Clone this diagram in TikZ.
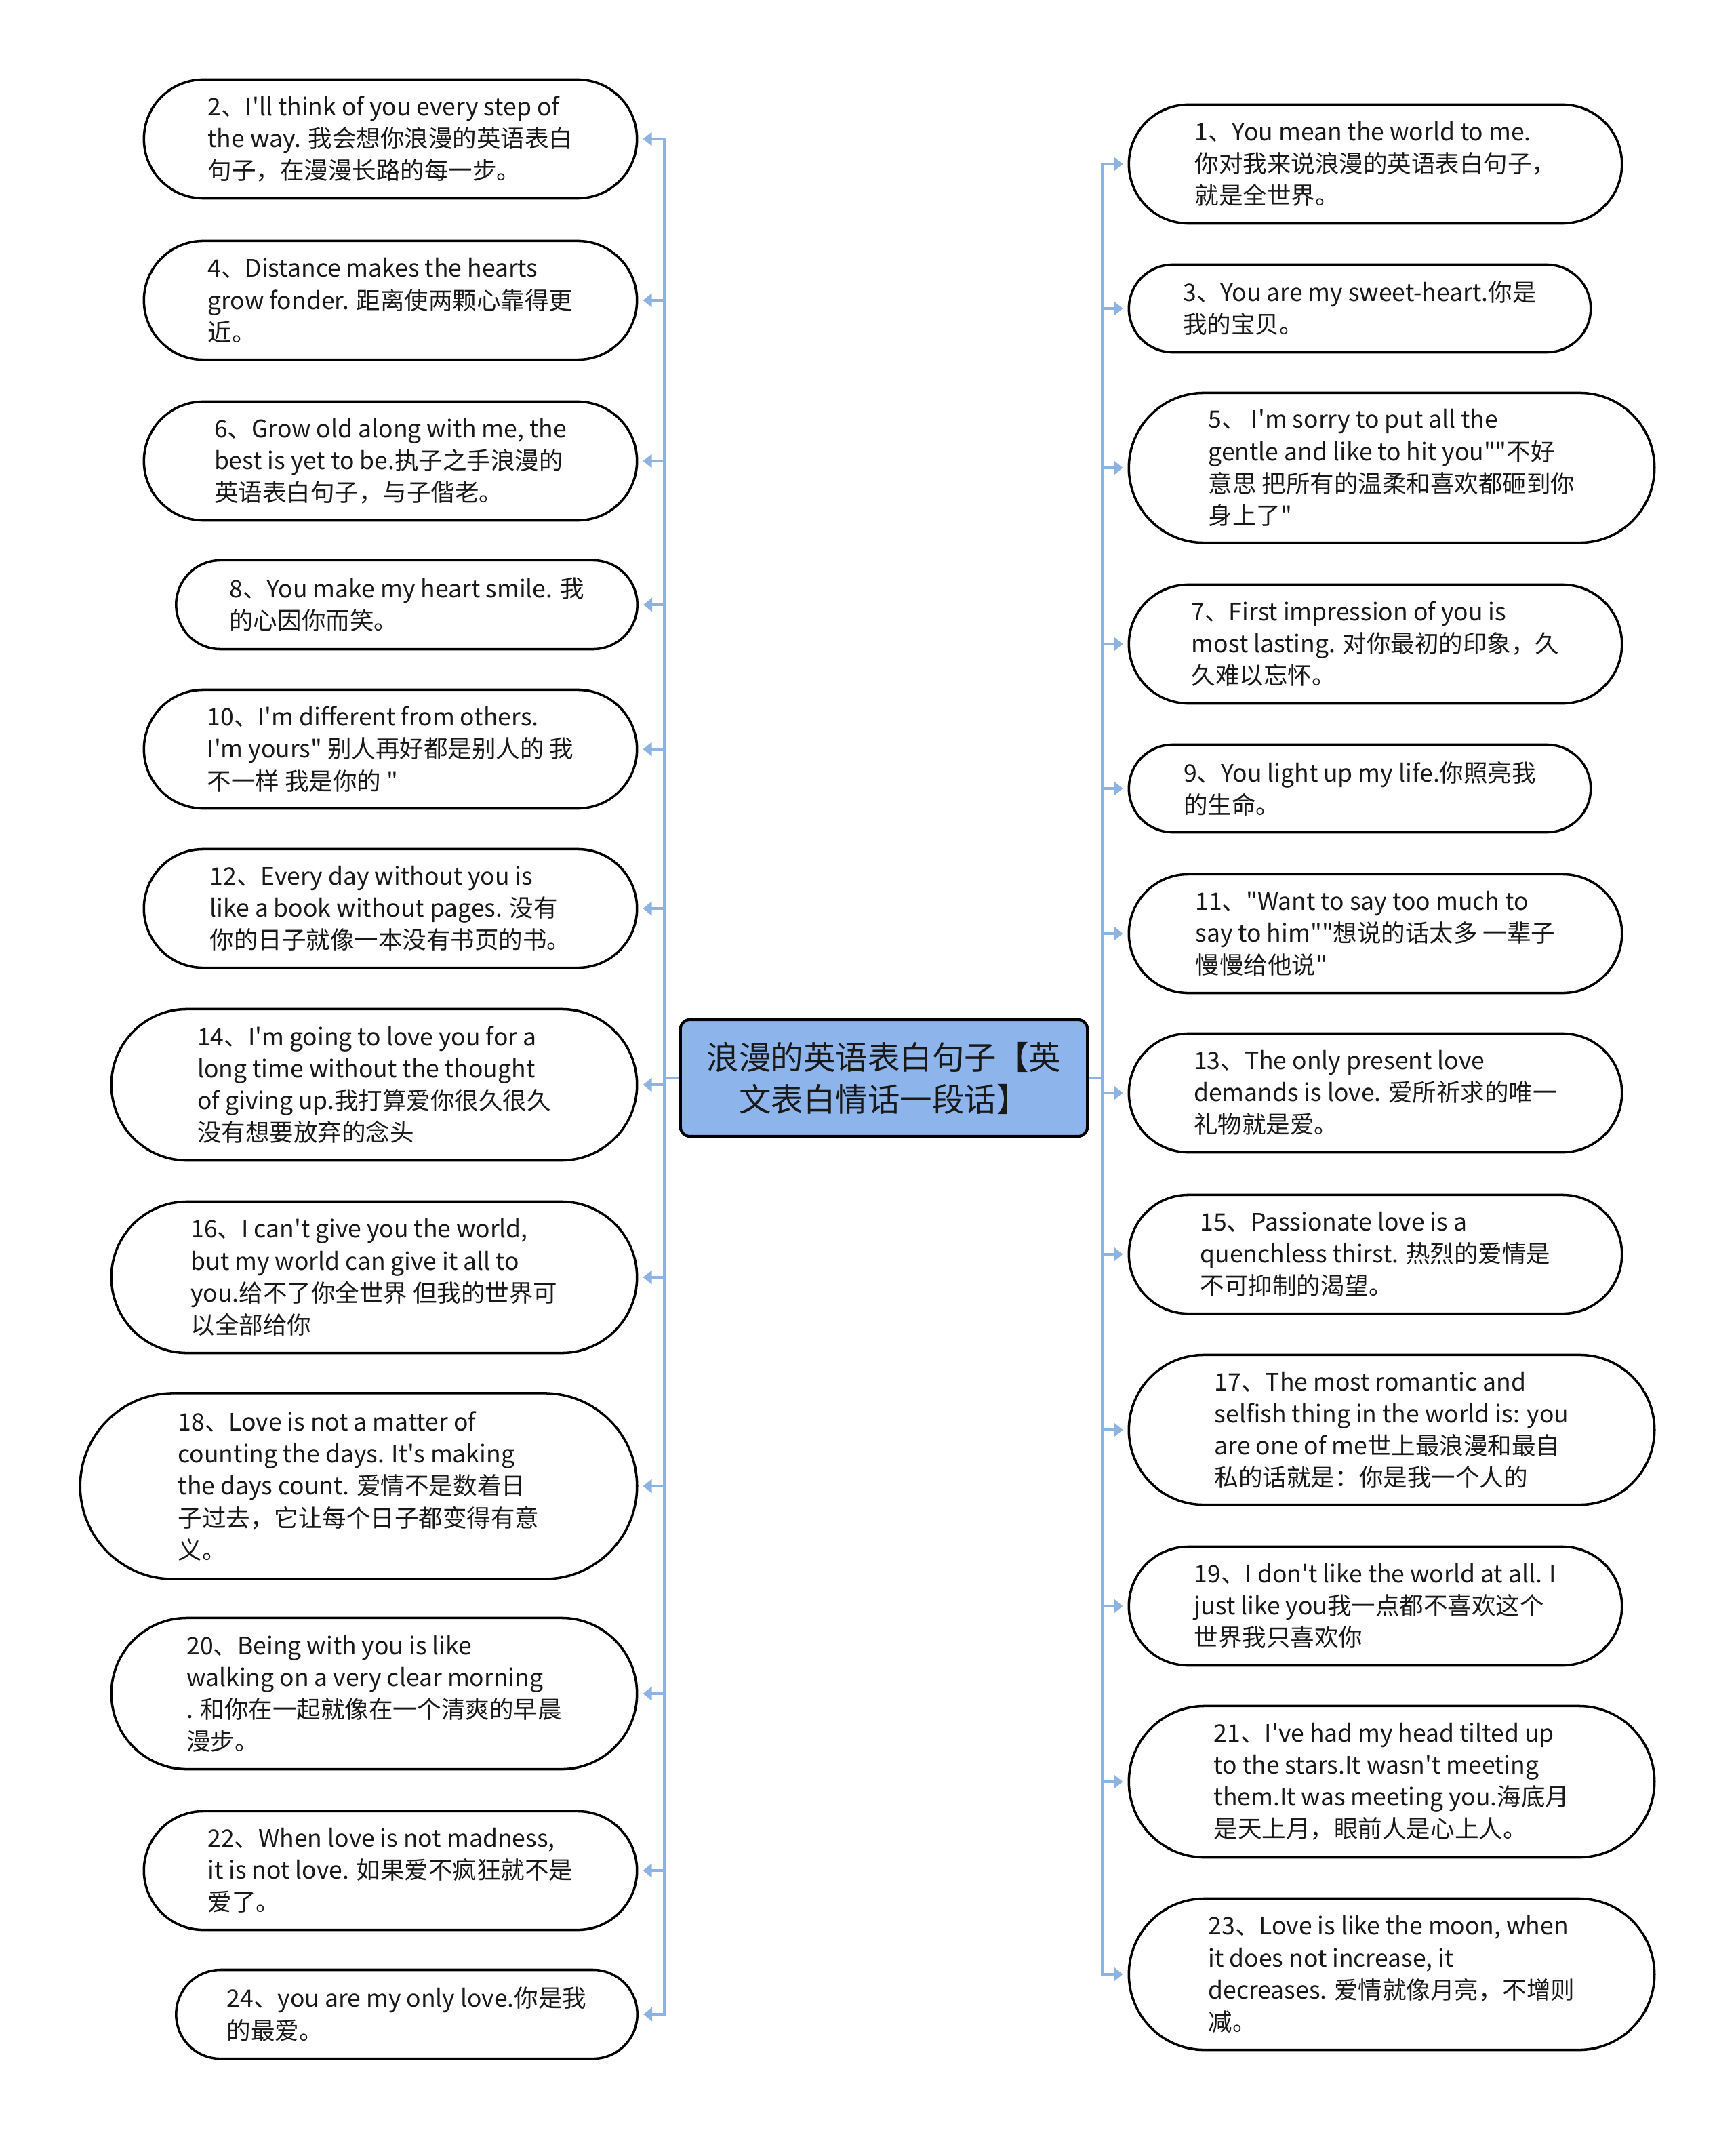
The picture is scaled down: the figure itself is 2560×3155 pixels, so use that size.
\documentclass[tikz,border=0pt]{standalone}
\usepackage{fontspec}
\newfontfamily\cjk{Noto Sans CJK SC}
\usetikzlibrary{arrows.meta,shapes.misc}

\definecolor{linkblue}{HTML}{8DB3E2}
\definecolor{rootblue}{HTML}{8EB4EC}

\begin{document}
\begin{tikzpicture}[
  x=0.01cm, y=-0.01cm,
  every node/.style={font=\cjk\fontsize{10.1}{13.4}\selectfont, text=black!90},
  idea/.style={draw, line width=1pt, rounded rectangle, align=left,
              inner sep=0pt, minimum height=1.75cm},
  root/.style={draw, line width=1.2pt, rounded corners=4pt, fill=rootblue,
              align=center, minimum width=6cm, minimum height=1.72cm,
              font=\cjk\fontsize{13.5}{17.6}\selectfont},
  link/.style={draw=linkblue, line width=0.9pt,
              -{Triangle[length=1.3mm, width=2mm]}, shorten >=2pt},
]
\useasboundingbox (0,0) rectangle (2560,3155);

% trunk positions
\coordinate (tl) at (980,0);
\coordinate (tr) at (1626,0);

% root
\node[root] (root) at (1304,1590) {浪漫的英语表白句子【英\\文表白情话一段话】};

% left side
\node[idea, minimum width=7.27cm] (n2) at (576,205)
  {2、I'll think of you every step of\\the way. 我会想你浪漫的英语表白\\句子，在漫漫长路的每一步。};
\node[idea, minimum width=7.27cm] (n4) at (576,443)
  {4、Distance makes the hearts\\grow fonder. 距离使两颗心靠得更\\近。};
\node[idea, minimum width=7.27cm] (n6) at (576,680)
  {6、Grow old along with me, the\\best is yet to be.执子之手浪漫的\\英语表白句子，与子偕老。};
\node[idea, minimum width=6.8cm, minimum height=1.31cm] (n8) at (600,892)
  {8、You make my heart smile. 我\\的心因你而笑。};
\node[idea, minimum width=7.27cm] (n10) at (576,1105)
  {10、I'm different from others.\\I'm yours" 别人再好都是别人的 我\\不一样 我是你的 "};
\node[idea, minimum width=7.27cm] (n12) at (576,1340)
  {12、Every day without you is\\like a book without pages. 没有\\你的日子就像一本没有书页的书。};
\node[idea, minimum width=7.75cm, minimum height=2.23cm] (n14) at (552,1600)
  {14、I'm going to love you for a\\long time without the thought\\of giving up.我打算爱你很久很久\\没有想要放弃的念头};
\node[idea, minimum width=7.75cm, minimum height=2.23cm] (n16) at (552,1884)
  {16、I can't give you the world,\\but my world can give it all to\\you.给不了你全世界 但我的世界可\\以全部给你};
\node[idea, minimum width=8.21cm, minimum height=2.74cm] (n18) at (529,2192)
  {18、Love is not a matter of\\counting the days. It's making\\the days count. 爱情不是数着日\\子过去，它让每个日子都变得有意\\义。};
\node[idea, minimum width=7.75cm, minimum height=2.23cm] (n20) at (552,2498)
  {20、Being with you is like\\walking on a very clear morning\\. 和你在一起就像在一个清爽的早晨\\漫步。};
\node[idea, minimum width=7.27cm] (n22) at (576,2759)
  {22、When love is not madness,\\it is not love. 如果爱不疯狂就不是\\爱了。};
\node[idea, minimum width=6.8cm, minimum height=1.31cm] (n24) at (600,2971)
  {24、you are my only love.你是我\\的最爱。};

% right side
\node[idea, minimum width=7.27cm] (n1) at (2029,242)
  {1、You mean the world to me.\\你对我来说浪漫的英语表白句子，\\就是全世界。};
\node[idea, minimum width=6.81cm, minimum height=1.29cm] (n3) at (2006,455)
  {3、You are my sweet-heart.你是\\我的宝贝。};
\node[idea, minimum width=7.75cm, minimum height=2.21cm] (n5) at (2053,690)
  {5、 I'm sorry to put all the\\gentle and like to hit you""不好\\意思 把所有的温柔和喜欢都砸到你\\身上了"};
\node[idea, minimum width=7.27cm] (n7) at (2029,950)
  {7、First impression of you is\\most lasting. 对你最初的印象，久\\久难以忘怀。};
\node[idea, minimum width=6.81cm, minimum height=1.29cm] (n9) at (2006,1163)
  {9、You light up my life.你照亮我\\的生命。};
\node[idea, minimum width=7.27cm] (n11) at (2029,1377)
  {11、"Want to say too much to\\say to him""想说的话太多 一辈子\\慢慢给他说"};
\node[idea, minimum width=7.27cm] (n13) at (2029,1612)
  {13、The only present love\\demands is love. 爱所祈求的唯一\\礼物就是爱。};
\node[idea, minimum width=7.27cm] (n15) at (2029,1850)
  {15、Passionate love is a\\quenchless thirst. 热烈的爱情是\\不可抑制的渴望。};
\node[idea, minimum width=7.75cm, minimum height=2.21cm] (n17) at (2053,2109)
  {17、The most romantic and\\selfish thing in the world is: you\\are one of me世上最浪漫和最自\\私的话就是：你是我一个人的};
\node[idea, minimum width=7.27cm] (n19) at (2029,2369)
  {19、I don't like the world at all. I\\ just like you我一点都不喜欢这个\\世界我只喜欢你};
\node[idea, minimum width=7.75cm, minimum height=2.23cm] (n21) at (2053,2628)
  {21、I've had my head tilted up\\to the stars.It wasn't meeting\\them.It was meeting you.海底月\\是天上月，眼前人是心上人。};
\node[idea, minimum width=7.75cm, minimum height=2.23cm] (n23) at (2053,2912)
  {23、Love is like the moon, when\\ it does not increase, it\\decreases. 爱情就像月亮，不增则\\减。};

% connectors, left
\draw[link] (root.west) -- (root.west -| tl) |- (n2.east);
\draw[link] (root.west) -- (root.west -| tl) |- (n4.east);
\draw[link] (root.west) -- (root.west -| tl) |- (n6.east);
\draw[link] (root.west) -- (root.west -| tl) |- (n8.east);
\draw[link] (root.west) -- (root.west -| tl) |- (n10.east);
\draw[link] (root.west) -- (root.west -| tl) |- (n12.east);
\draw[link] (root.west) -- (root.west -| tl) |- (n14.east);
\draw[link] (root.west) -- (root.west -| tl) |- (n16.east);
\draw[link] (root.west) -- (root.west -| tl) |- (n18.east);
\draw[link] (root.west) -- (root.west -| tl) |- (n20.east);
\draw[link] (root.west) -- (root.west -| tl) |- (n22.east);
\draw[link] (root.west) -- (root.west -| tl) |- (n24.east);

% connectors, right
\draw[link] (root.east) -- (root.east -| tr) |- (n1.west);
\draw[link] (root.east) -- (root.east -| tr) |- (n3.west);
\draw[link] (root.east) -- (root.east -| tr) |- (n5.west);
\draw[link] (root.east) -- (root.east -| tr) |- (n7.west);
\draw[link] (root.east) -- (root.east -| tr) |- (n9.west);
\draw[link] (root.east) -- (root.east -| tr) |- (n11.west);
\draw[link] (root.east) -- (root.east -| tr) |- (n13.west);
\draw[link] (root.east) -- (root.east -| tr) |- (n15.west);
\draw[link] (root.east) -- (root.east -| tr) |- (n17.west);
\draw[link] (root.east) -- (root.east -| tr) |- (n19.west);
\draw[link] (root.east) -- (root.east -| tr) |- (n21.west);
\draw[link] (root.east) -- (root.east -| tr) |- (n23.west);

\end{tikzpicture}
\end{document}
